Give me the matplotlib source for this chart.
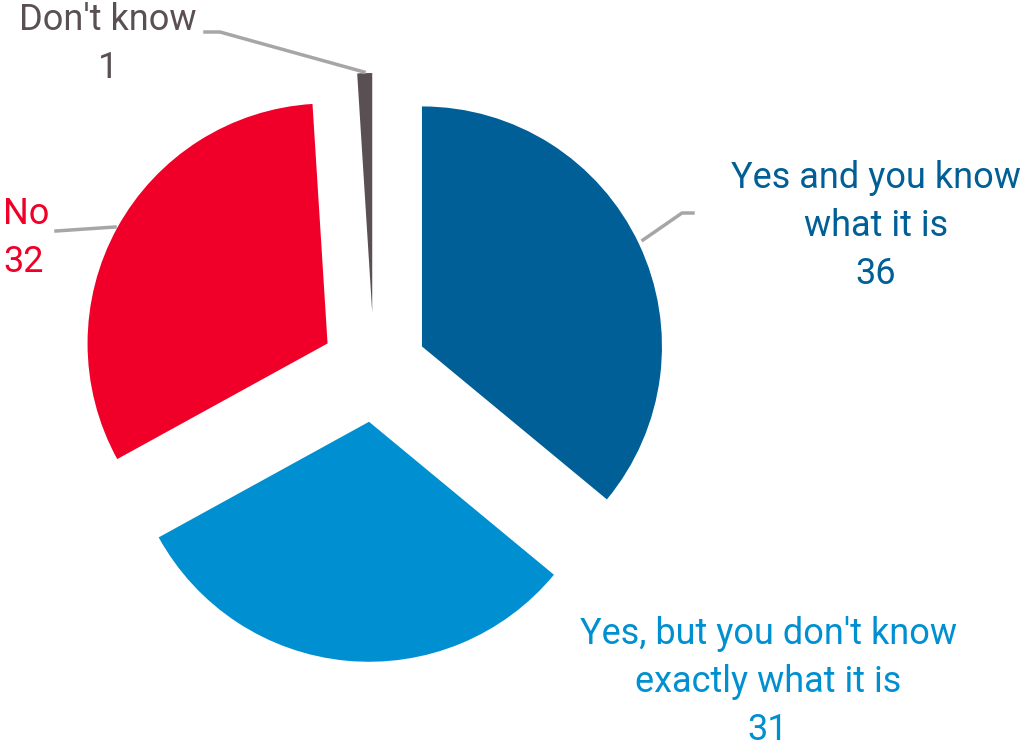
import matplotlib.pyplot as plt

labels = ["Yes and you know\nwhat it is", "Yes, but you don't know\nexactly what it is", "No", "Don't know"]
values = [36, 31, 32, 1]
colors = ["#005f96", "#0090d1", "#f00028", "#5a5054"]

W, H = 1025, 746
fig = plt.figure(figsize=(W / 100, H / 100), dpi=100)
ax = fig.add_axes([0, 0, 1, 1])

# pie centre / radius in pixel units (y flipped)
ax.pie(values, colors=colors, startangle=90, counterclock=False,
       center=(374, H - 369), radius=240, explode=[53, 53, 53, 56],
       wedgeprops=dict(linewidth=0), frame=True)
ax.set_xlim(0, W)
ax.set_ylim(0, H)
ax.set_aspect("equal")
ax.axis("off")

font = "Roboto"
fs = 26
ls = 1.42
txt = [f"{l}\n{v}" for l, v in zip(labels, values)]
ax.text(876, H - 226, txt[0], color=colors[0], fontsize=fs, family=font,
        ha="center", va="center", linespacing=ls)
ax.text(768, H - 682, txt[1], color=colors[1], fontsize=fs, family=font,
        ha="center", va="center", linespacing=ls)
ax.text(3, H - 238, txt[2], color=colors[2], fontsize=fs, family=font,
        ha="left", va="center", linespacing=ls)
ax.text(108, H - 44, txt[3], color=colors[3], fontsize=fs, family=font,
        ha="center", va="center", linespacing=ls)

# leader lines
lc = "#a6a6a6"
ax.plot([643, 682, 693], [H - 240, H - 213, H - 213], color=lc, lw=2.5)
ax.plot([56, 115], [H - 231, H - 227], color=lc, lw=2.5)
ax.plot([205, 220, 364], [H - 32, H - 32, H - 72], color=lc, lw=2.5)

fig.savefig("out.png", dpi=100)
